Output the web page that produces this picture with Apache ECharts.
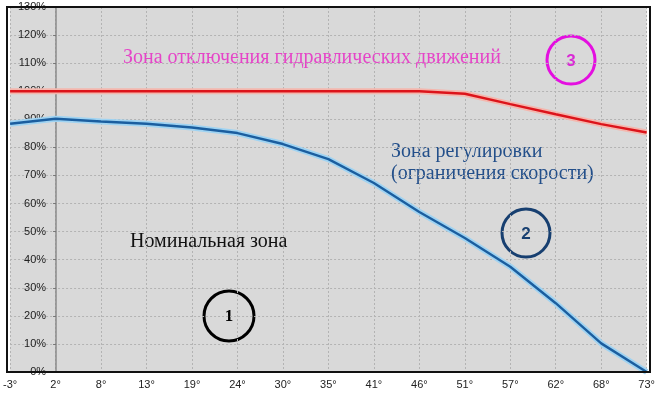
<!DOCTYPE html>
<html>
<head>
<meta charset="utf-8">
<script src="https://cdn.jsdelivr.net/npm/echarts@6/dist/echarts.min.js"></script>
<style>
html,body{margin:0;padding:0;background:#fff;}
#c{width:658px;height:396px;}
</style>
</head>
<body>
<div id="c"></div>
<script>
var categories = ['-3°','2°','8°','13°','19°','24°','30°','35°','41°','46°','51°','57°','62°','68°','73°'];
var regulationLimit = [88.4, 90.2, 89.2, 88.4, 87.1, 85.1, 81.2, 75.8, 67.3, 57, 47.7, 37.5, 24.5, 10.2, 0];
var shutdownLimit = [100, 100, 100, 100, 100, 100, 100, 100, 100, 100, 99.1, 95.4, 91.8, 88.3, 85.3];
var yTicks = [0, 130, 10];

var chart = echarts.init(document.getElementById('c'));
var serif = '"Liberation Serif", "DejaVu Serif", serif';
var sans = '"Liberation Sans", Arial, sans-serif';
chart.setOption({
  animation: false,
  backgroundColor: '#ffffff',
  grid: {left: 7, right: 8, top: 7, bottom: 24, show: true, backgroundColor: '#d9d9d9', borderWidth: 0},
  xAxis: {
    type: 'category', data: categories, boundaryGap: false,
    axisLine: {show: false},
    axisTick: {show: false},
    axisLabel: {interval: 0, color: '#222', fontSize: 11, fontFamily: sans, margin: 7},
    splitLine: {show: true, lineStyle: {color: '#b3b3b3', type: [2, 2], width: 1}}
  },
  yAxis: {
    type: 'value', min: yTicks[0], max: yTicks[1], interval: yTicks[2],
    offset: -46,
    axisLine: {show: true, lineStyle: {color: '#8a8a8a', width: 1.5}},
    axisTick: {show: true, length: 3, lineStyle: {color: '#777'}},
    axisLabel: {formatter: '{value}%', color: '#222', fontSize: 11, fontFamily: sans, margin: 10},
    splitLine: {show: true, lineStyle: {color: '#b3b3b3', type: [2, 2], width: 1}}
  },
  series: [
    {type: 'line', data: shutdownLimit, symbol: 'none', z: 2, lineStyle: {color: '#f4b6ad', width: 6}, silent: true},
    {type: 'line', data: shutdownLimit, symbol: 'none', z: 3, lineStyle: {color: '#dc141b', width: 2.4}},
    {type: 'line', data: regulationLimit, symbol: 'none', z: 2, lineStyle: {color: '#9fd3f2', width: 6}, silent: true},
    {type: 'line', data: regulationLimit, symbol: 'none', z: 3, lineStyle: {color: '#1b5e9f', width: 2.4}}
  ],
  graphic: [
    {type: 'rect', z: 100, shape: {x: 7, y: 7, width: 643, height: 365}, style: {fill: 'none', stroke: '#111', lineWidth: 2}},
    {type: 'text', x: 123, y: 58, style: {text: 'Зона отключения гидравлических движений', fill: '#e545c8', font: '20px ' + serif, verticalAlign: 'middle'}},
    {type: 'circle', shape: {cx: 571, cy: 60, r: 24}, style: {fill: 'none', stroke: '#e40fe0', lineWidth: 3}},
    {type: 'text', x: 571, y: 61, style: {text: '3', fill: '#d92ad5', font: 'bold 17px ' + sans, align: 'center', verticalAlign: 'middle'}},
    {type: 'text', x: 391, y: 152, style: {text: 'Зона регулировки', fill: '#234f8a', font: '20px ' + serif, verticalAlign: 'middle'}},
    {type: 'text', x: 391, y: 174, style: {text: '(ограничения скорости)', fill: '#234f8a', font: '20px ' + serif, verticalAlign: 'middle'}},
    {type: 'circle', shape: {cx: 526, cy: 233, r: 24}, style: {fill: 'none', stroke: '#173f70', lineWidth: 3}},
    {type: 'text', x: 526, y: 234, style: {text: '2', fill: '#173f70', font: 'bold 17px ' + sans, align: 'center', verticalAlign: 'middle'}},
    {type: 'text', x: 130, y: 242, style: {text: 'Номинальная зона', fill: '#111', font: '20px ' + serif, verticalAlign: 'middle'}},
    {type: 'circle', shape: {cx: 229, cy: 316, r: 25}, style: {fill: 'none', stroke: '#000', lineWidth: 3}},
    {type: 'text', x: 229, y: 317, style: {text: '1', fill: '#000', font: 'bold 17px ' + serif, align: 'center', verticalAlign: 'middle'}}
  ]
});
</script>
</body>
</html>
